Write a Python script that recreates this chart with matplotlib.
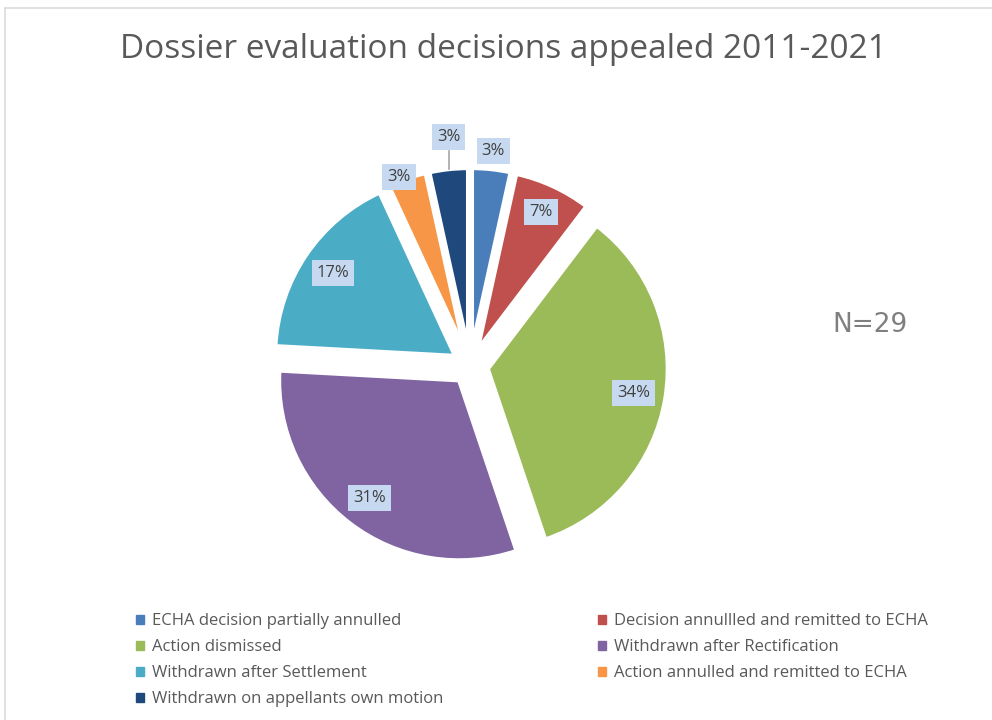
import matplotlib.pyplot as plt
import matplotlib.lines as mlines
import matplotlib.patches as mpatches
import numpy as np

# Appeal outcomes, N = 29
categories = ['ECHA decision partially annulled',
              'Decision annullled and remitted to ECHA',
              'Action dismissed',
              'Withdrawn after Rectification',
              'Withdrawn after Settlement',
              'Action annulled and remitted to ECHA',
              'Withdrawn on appellants own motion']
counts = [1, 2, 10, 9, 5, 1, 1]
pct_labels = ['3%', '7%', '34%', '31%', '17%', '3%', '3%']
colors = ['#4a7ebb', '#c0504d', '#9bbb59', '#8064a2', '#4bacc6', '#f79646', '#1f497d']

# label distance (in radii from the exploded slice centre) and angle nudge for each slice
label_dist = [1.1, 0.84, 0.82, 0.82, 0.82, 1.02, 1.18]
label_turn = [0, 0, 0, 0, 0, 2, 0]
explode = [0.1] * len(counts)

plt.rcParams['font.family'] = ['Open Sans', 'DejaVu Sans']

fig = plt.figure(figsize=(9.92, 7.2), dpi=100)

# light frame on the top and left edge
fig.add_artist(mlines.Line2D([5 / 992, 1], [1 - 8 / 720] * 2, color='#dcdcdc', lw=1.2))
fig.add_artist(mlines.Line2D([5 / 992] * 2, [0, 1 - 8 / 720], color='#dcdcdc', lw=1.2))

fig.text(503 / 992, 1 - 50 / 720, 'Dossier evaluation decisions appealed 2011-2021',
         ha='center', va='center', fontsize=24, color='#595959')
fig.text(870 / 992, 1 - 325 / 720, 'N=29', ha='center', va='center',
         fontsize=19, color='#7f7f7f', family='DejaVu Sans')

ax = fig.add_axes([236 / 992, 120 / 720, 468 / 992, 468 / 720])
wedges, _ = ax.pie(counts, colors=colors, startangle=90, counterclock=False,
                   explode=explode, radius=1.0,
                   wedgeprops=dict(edgecolor='white', linewidth=3))
ax.set_xlim(-1.3, 1.3)
ax.set_ylim(-1.3, 1.3)
ax.axis('off')

for i, (w, lab, d, ex) in enumerate(zip(wedges, pct_labels, label_dist, explode)):
    ang = np.deg2rad((w.theta1 + w.theta2) / 2 + label_turn[i])
    r = ex + d
    x, y = r * np.cos(ang), r * np.sin(ang)
    if i == len(wedges) - 1:
        x = (ex + 1.0) * np.cos(ang)
    ax.text(x, y, lab, ha='center', va='center', fontsize=12, color='#404040',
            bbox=dict(boxstyle='square,pad=0.3', fc='#c6d9f1', ec='none'))

# leader line for the last slice
w = wedges[-1]
ang = np.deg2rad((w.theta1 + w.theta2) / 2)
x0, y0 = (explode[-1] + 1.0) * np.cos(ang), (explode[-1] + 1.0) * np.sin(ang)
y1 = (explode[-1] + label_dist[-1] - 0.08) * np.sin(ang)
ax.plot([x0, x0], [y0, y1], color='#a6a6a6', lw=1.2)

handles = [mpatches.Patch(color=c) for c in colors]
left = [0, 2, 4, 6]
right = [1, 3, 5]
leg_kw = dict(frameon=False, fontsize=12, handlelength=0.45, handleheight=0.45,
              handletextpad=0.5, labelspacing=0.6, labelcolor='#595959',
              loc='upper left', borderaxespad=0, borderpad=0)
fig.legend([handles[i] for i in left], [categories[i] for i in left],
           bbox_to_anchor=(136 / 992, 1 - 613 / 720), **leg_kw)
fig.legend([handles[i] for i in right], [categories[i] for i in right],
           bbox_to_anchor=(598 / 992, 1 - 613 / 720), **leg_kw)

fig.savefig('out.png', dpi=100)
